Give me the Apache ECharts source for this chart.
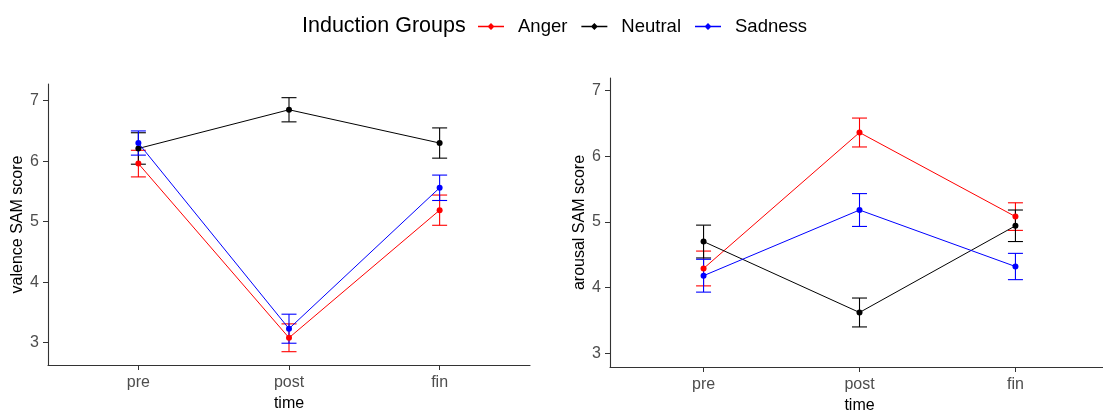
<!DOCTYPE html>
<html>
<head>
<meta charset="utf-8">
<script src="https://cdn.jsdelivr.net/npm/echarts@6/dist/echarts.min.js"></script>
<style>html,body{margin:0;padding:0;background:#fff}#c{width:1103px;height:412px}</style>
</head>
<body>
<div id="c"></div>
<script>
const timeLabels = ['pre', 'post', 'fin'];
const groups = ['Anger', 'Neutral', 'Sadness'];
const yTicks = [3, 4, 5, 6, 7];

const valenceAnger = [5.96, 3.08, 5.19];
const valenceAngerSE = [0.22, 0.23, 0.25];
const valenceNeutral = [6.21, 6.85, 6.30];
const valenceNeutralSE = [0.26, 0.20, 0.25];
const valenceSadness = [6.30, 3.23, 5.56];
const valenceSadnessSE = [0.20, 0.24, 0.21];

const arousalAnger = [4.29, 6.36, 5.08];
const arousalAngerSE = [0.265, 0.22, 0.21];
const arousalNeutral = [4.70, 3.62, 4.94];
const arousalNeutralSE = [0.25, 0.22, 0.24];
const arousalSadness = [4.18, 5.18, 4.32];
const arousalSadnessSE = [0.25, 0.25, 0.20];

const colors = { Anger: '#FF0000', Neutral: '#000000', Sadness: '#0000FF' };
const FONT = 'Liberation Sans, Arial, sans-serif';

const panels = [
  { means: [valenceAnger, valenceNeutral, valenceSadness], ses: [valenceAngerSE, valenceNeutralSE, valenceSadnessSE] },
  { means: [arousalAnger, arousalNeutral, arousalSadness], ses: [arousalAngerSE, arousalNeutralSE, arousalSadnessSE] }
];

const series = [];
panels.forEach((p, pi) => {
  groups.forEach((g, gi) => {
    const m = p.means[gi], s = p.ses[gi];
    series.push({
      type: 'custom', name: g, xAxisIndex: pi, yAxisIndex: pi,
      encode: { x: 0, y: [1, 2] },
      data: m.map((v, i) => [i + 1, v - s[i], v + s[i]]),
      renderItem: (params, api) => {
        const x = api.value(0);
        const lo = api.coord([x, api.value(1)]);
        const hi = api.coord([x, api.value(2)]);
        const hw = 7.5;
        const st = { stroke: colors[g], lineWidth: 1.1 };
        return { type: 'group', children: [
          { type: 'line', shape: { x1: lo[0], y1: lo[1], x2: hi[0], y2: hi[1] }, style: st },
          { type: 'line', shape: { x1: lo[0] - hw, y1: lo[1], x2: lo[0] + hw, y2: lo[1] }, style: st },
          { type: 'line', shape: { x1: hi[0] - hw, y1: hi[1], x2: hi[0] + hw, y2: hi[1] }, style: st }
        ]};
      },
      z: 3, silent: true
    });
    series.push({
      type: 'line', name: g, xAxisIndex: pi, yAxisIndex: pi,
      data: m.map((v, i) => [i + 1, v]),
      symbol: 'circle', symbolSize: 6,
      itemStyle: { color: colors[g] },
      lineStyle: { color: colors[g], width: 1 },
      z: 4, animation: false
    });
  });
});

function xAxisCfg(gi, max) {
  return {
    gridIndex: gi, type: 'value', min: 0.4, max: max,
    name: 'time', nameLocation: 'middle', nameGap: 31,
    nameTextStyle: { color: '#000', fontSize: 16, fontFamily: FONT },
    axisLine: { show: true, lineStyle: { color: '#333', width: 1.1 } },
    axisTick: { show: true, length: 5, customValues: [1, 2, 3], lineStyle: { color: '#333' } },
    axisLabel: { customValues: [1, 2, 3], formatter: v => timeLabels[Math.round(v) - 1] || '',
      color: '#4D4D4D', fontSize: 16, fontFamily: FONT, margin: 10 },
    splitLine: { show: false }
  };
}
function yAxisCfg(gi, name, min, max) {
  return {
    gridIndex: gi, type: 'value', min: min, max: max,
    name: name, nameLocation: 'middle', nameGap: 22,
    nameTextStyle: { color: '#000', fontSize: 16, fontFamily: FONT },
    axisLine: { show: true, lineStyle: { color: '#333', width: 1.1 } },
    axisTick: { show: true, length: 5, customValues: yTicks, lineStyle: { color: '#333' } },
    axisLabel: { customValues: yTicks, color: '#4D4D4D', fontSize: 16, fontFamily: FONT, margin: 9 },
    splitLine: { show: false }
  };
}

const icon = 'path://M0,4.3H26V5.7H0Z M13,1.5L16.5,5L13,8.5L9.5,5Z';

const option = {
  animation: false,
  backgroundColor: '#fff',
  title: { text: 'Induction Groups', left: 297, top: 10,
    textStyle: { fontSize: 21.5, fontWeight: 'normal', color: '#000', fontFamily: FONT } },
  legend: {
    left: 473, top: 12, itemWidth: 26, itemHeight: 10, itemGap: 14,
    icon: icon,
    data: groups.map(g => ({ name: g, icon: icon, itemStyle: { color: colors[g] } })),
    textStyle: { fontSize: 18.5, color: '#000', fontFamily: FONT, padding: [0, 0, 0, 9] }
  },
  grid: [
    { left: 48, top: 84, width: 482, height: 281, outerBoundsMode: 'none', containLabel: false },
    { left: 610, top: 78, width: 499, height: 289, outerBoundsMode: 'none', containLabel: false }
  ],
  xAxis: [xAxisCfg(0, 3.6), xAxisCfg(1, 3.6)],
  yAxis: [yAxisCfg(0, 'valence SAM score', 2.63, 7.276), yAxisCfg(1, 'arousal SAM score', 2.79, 7.19)],
  series: series
};

echarts.init(document.getElementById('c'), null, { renderer: 'canvas' }).setOption(option);
</script>
</body>
</html>
